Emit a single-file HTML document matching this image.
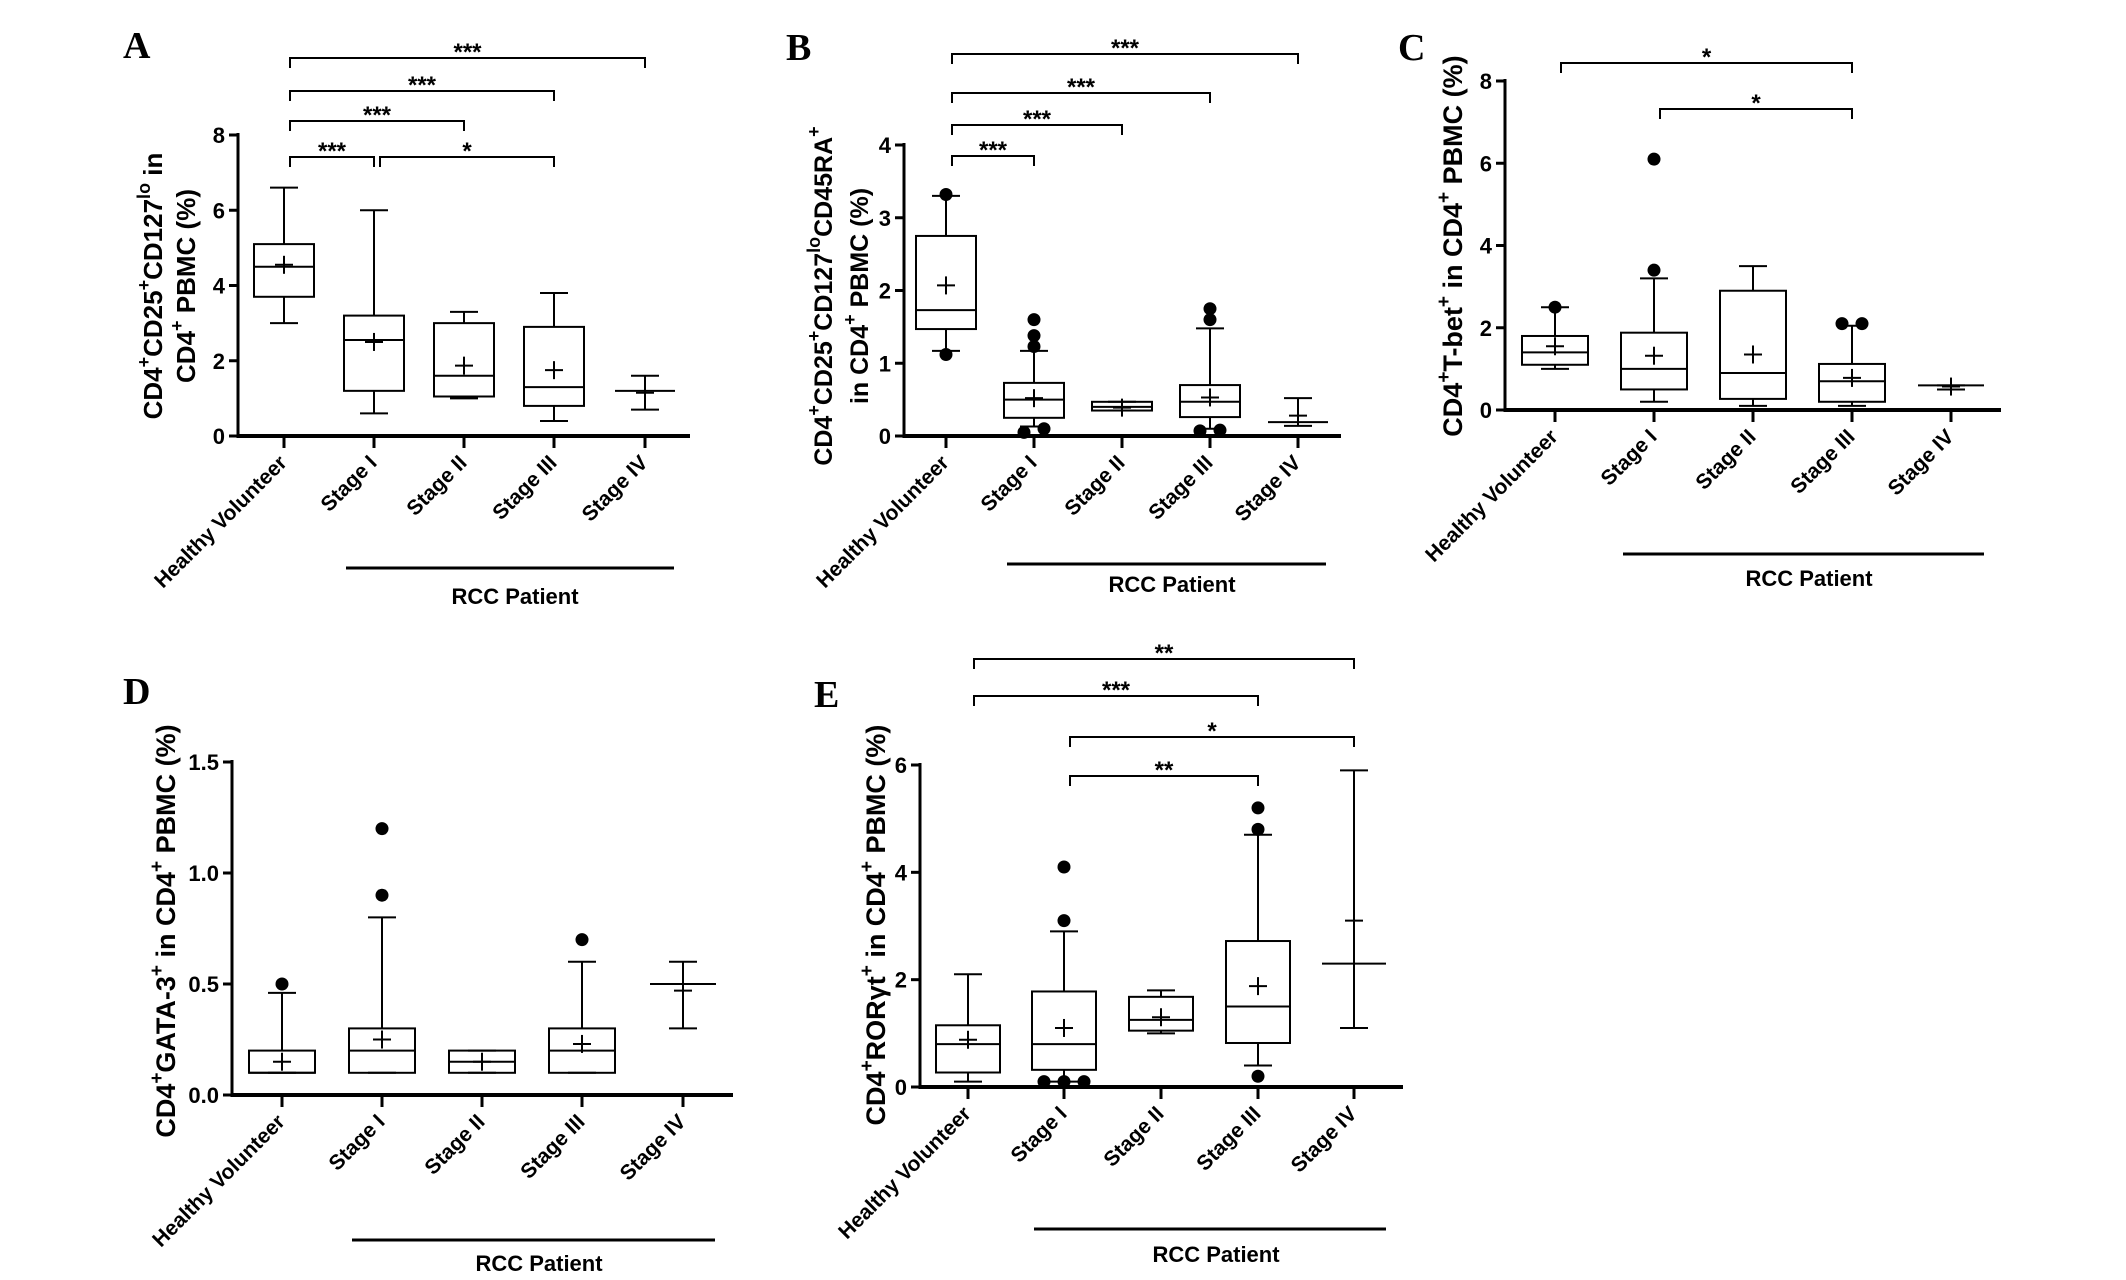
<!DOCTYPE html>
<html><head><meta charset="utf-8"><style>
html,body{margin:0;padding:0;background:#fff}
svg{display:block}
text{font-family:"Liberation Sans",Arial,sans-serif;font-weight:bold;fill:#000}
.letter{font-family:"Liberation Serif",serif;font-size:38px}
</style></head><body>
<svg id="fig" width="2126" height="1280" viewBox="0 0 2126 1280" xmlns="http://www.w3.org/2000/svg"></svg>
<script>
const categories = ["Healthy Volunteer","Stage I","Stage II","Stage III","Stage IV"];

// Panel A
const aMin  = [3.0, 0.6, 1.0, 0.4, 0.7];
const aQ1   = [3.7, 1.2, 1.05, 0.8, 1.2];
const aMed  = [4.5, 2.55, 1.6, 1.3, 1.2];
const aQ3   = [5.1, 3.2, 3.0, 2.9, 1.2];
const aMax  = [6.6, 6.0, 3.3, 3.8, 1.6];
const aMean = [4.55, 2.5, 1.87, 1.75, 1.15];
const aOut  = [[], [], [], [], []];
const aTicks = ["0","2","4","6","8"];
// Panel B
const bMin  = [1.17, 0.13, 0.35, 0.1, 0.14];
const bQ1   = [1.47, 0.25, 0.35, 0.26, 0.19];
const bMed  = [1.73, 0.5, 0.4, 0.47, 0.19];
const bQ3   = [2.75, 0.73, 0.47, 0.7, 0.19];
const bMax  = [3.3, 1.17, 0.47, 1.48, 0.52];
const bMean = [2.07, 0.52, 0.39, 0.53, 0.28];
const bOut  = [[3.32, 1.12], [1.6, 1.38, 1.23, 0.05, 0.1], [], [1.75, 1.6, 0.07, 0.08], []];
const bTicks = ["0","1","2","3","4"];
// Panel C
const cMin  = [1.0, 0.2, 0.1, 0.1, 0.5];
const cQ1   = [1.1, 0.5, 0.27, 0.2, 0.6];
const cMed  = [1.4, 1.0, 0.9, 0.7, 0.6];
const cQ3   = [1.8, 1.88, 2.9, 1.12, 0.6];
const cMax  = [2.5, 3.2, 3.5, 2.05, 0.6];
const cMean = [1.55, 1.32, 1.35, 0.78, 0.57];
const cOut  = [[2.5], [6.1, 3.4], [], [2.1, 2.1], []];
const cTicks = ["0","2","4","6","8"];
// Panel D
const dMin  = [0.1, 0.1, 0.1, 0.1, 0.3];
const dQ1   = [0.1, 0.1, 0.1, 0.1, 0.5];
const dMed  = [0.1, 0.2, 0.15, 0.2, 0.5];
const dQ3   = [0.2, 0.3, 0.2, 0.3, 0.5];
const dMax  = [0.46, 0.8, 0.2, 0.6, 0.6];
const dMean = [0.15, 0.25, 0.15, 0.23, 0.47];
const dOut  = [[0.5], [1.2, 0.9], [], [0.7], []];
const dTicks = ["0.0","0.5","1.0","1.5"];
// Panel E
const eMin  = [0.1, 0.1, 1.0, 0.4, 1.1];
const eQ1   = [0.27, 0.32, 1.05, 0.82, 2.3];
const eMed  = [0.8, 0.8, 1.25, 1.5, 2.3];
const eQ3   = [1.15, 1.78, 1.68, 2.72, 2.3];
const eMax  = [2.1, 2.9, 1.8, 4.7, 5.9];
const eMean = [0.88, 1.1, 1.3, 1.88, 3.1];
const eOut  = [[], [4.1, 3.1, 0.1, 0.1, 0.1], [], [5.2, 4.8, 0.2], []];
const eTicks = ["0","2","4","6"];

const NS = "http://www.w3.org/2000/svg";
const svg = document.getElementById('fig');
function mk(tag, attrs, parent){
  const e = document.createElementNS(NS, tag);
  for (const k in attrs) e.setAttribute(k, attrs[k]);
  (parent||svg).appendChild(e);
  return e;
}

const panels = [
 {id:"a", letter:"A", lx:123, ly:58, ax:238, y0:436, yTop:135, vmax:8, xEnd:690, cats:[284,374,464,554,645], hw:30,
  min:aMin,q1:aQ1,med:aMed,q3:aQ3,max:aMax,mean:aMean,out:aOut,ticks:aTicks,
  title:[[["CD4",0],["+",1],["CD25",0],["+",1],["CD127",0],["lo",1],[" in",0]],[["CD4",0],["+",1],[" PBMC (%)",0]]],
  tx:[155,188], ty:286, tfs:26,
  rcc:[346,674,568], rccText:[515,604],
  br:[[0,4,58,"***"],[0,3,91,"***"],[0,2,121,"***"],[0,1,157,"***"],[1,3,157,"*"]]},
 {id:"b", letter:"B", lx:786, ly:60, ax:904, y0:436, yTop:145, vmax:4, xEnd:1341, cats:[946,1034,1122,1210,1298], hw:30,
  min:bMin,q1:bQ1,med:bMed,q3:bQ3,max:bMax,mean:bMean,out:bOut,ticks:bTicks,
  title:[[["CD4",0],["+",1],["CD25",0],["+",1],["CD127",0],["lo",1],["CD45RA",0],["+",1]],[["in CD4",0],["+",1],[" PBMC (%)",0]]],
  tx:[825,861], ty:296, tfs:25,
  rcc:[1007,1326,564], rccText:[1172,592],
  br:[[0,4,54,"***"],[0,3,93,"***"],[0,2,125,"***"],[0,1,156,"***"]]},
 {id:"c", letter:"C", lx:1398, ly:60, ax:1505, y0:410, yTop:81, vmax:8, xEnd:2001, cats:[1555,1654,1753,1852,1951], hw:33,
  min:cMin,q1:cQ1,med:cMed,q3:cQ3,max:cMax,mean:cMean,out:cOut,ticks:cTicks,
  title:[[["CD4",0],["+",1],["T-bet",0],["+",1],[" in CD4",0],["+",1],[" PBMC (%)",0]]],
  tx:[1455], ty:246, tfs:27,
  rcc:[1623,1984,554], rccText:[1809,586],
  br:[[0,3,63,"*"],[1,3,109,"*"]]},
 {id:"d", letter:"D", lx:123, ly:704, ax:232, y0:1095, yTop:762, vmax:1.5, xEnd:733, cats:[282,382,482,582,683], hw:33,
  min:dMin,q1:dQ1,med:dMed,q3:dQ3,max:dMax,mean:dMean,out:dOut,ticks:dTicks,
  title:[[["CD4",0],["+",1],["GATA-3",0],["+",1],[" in CD4",0],["+",1],[" PBMC (%)",0]]],
  tx:[168], ty:931, tfs:27,
  rcc:[352,715,1240], rccText:[539,1271],
  br:[]},
 {id:"e", letter:"E", lx:814, ly:707, ax:920, y0:1087, yTop:765, vmax:6, xEnd:1403, cats:[968,1064,1161,1258,1354], hw:32,
  min:eMin,q1:eQ1,med:eMed,q3:eQ3,max:eMax,mean:eMean,out:eOut,ticks:eTicks,
  title:[[["CD4",0],["+",1],["ROR\u03B3t",0],["+",1],[" in CD4",0],["+",1],[" PBMC (%)",0]]],
  tx:[878], ty:925, tfs:27,
  rcc:[1034,1386,1229], rccText:[1216,1262],
  br:[[0,4,659,"**"],[0,3,696,"***"],[1,4,737,"*"],[1,3,776,"**"]]}
];

panels.forEach(p => {
  const g = mk('g', {});
  
  
  const Y = v => p.y0 - (v / p.vmax) * (p.y0 - p.yTop);

  const L = mk('text', {x:p.lx, y:p.ly, class:'letter'}, g);
  L.textContent = p.letter;
  
  

  const ya = mk('line', {x1:p.ax, y1:p.yTop-2, x2:p.ax, y2:p.y0, stroke:'#000','stroke-width':3}, g);
  
  
  p.ticks.forEach((t, i) => {
    const v = p.vmax * i / (p.ticks.length - 1);
    const yy = Y(v);
    mk('line', {x1:p.ax-9, y1:yy, x2:p.ax, y2:yy, stroke:'#000','stroke-width':3}, g);
    const tt = mk('text', {x:p.ax-13, y:yy+8, 'text-anchor':'end','font-size':22}, g);
    tt.textContent = t;
    
    
  });
  const xa = mk('line', {x1:p.ax-1.5, y1:p.y0, x2:p.xEnd, y2:p.y0, stroke:'#000','stroke-width':4}, g);
  
  
  p.cats.forEach((cx, i) => {
    mk('line', {x1:cx, y1:p.y0, x2:cx, y2:p.y0+12, stroke:'#000','stroke-width':3}, g);
    const tx = cx + 4, ty = p.y0 + 28;
    const lab = mk('text', {x:tx, y:ty, 'text-anchor':'end','font-size':21, transform:`rotate(-45 ${tx} ${ty})`}, g);
    lab.textContent = categories[i];
    
    

    const bg = mk('g', {stroke:'#000','stroke-width':2, fill:'none'}, g);
    
    
    const hw = p.hw, cap = 14;
    const yq1 = Y(p.q1[i]), yq3 = Y(p.q3[i]);
    if (p.q3[i] > p.q1[i]) mk('rect', {x:cx-hw, y:yq3, width:2*hw, height:yq1-yq3}, bg);
    mk('line', {x1:cx-hw, y1:Y(p.med[i]), x2:cx+hw, y2:Y(p.med[i])}, bg);
    mk('line', {x1:cx, y1:yq3, x2:cx, y2:Y(p.max[i])}, bg);
    mk('line', {x1:cx, y1:yq1, x2:cx, y2:Y(p.min[i])}, bg);
    mk('line', {x1:cx-cap, y1:Y(p.max[i]), x2:cx+cap, y2:Y(p.max[i])}, bg);
    mk('line', {x1:cx-cap, y1:Y(p.min[i]), x2:cx+cap, y2:Y(p.min[i])}, bg);
    const ym = Y(p.mean[i]);
    mk('line', {x1:cx-9, y1:ym, x2:cx+9, y2:ym}, bg);
    mk('line', {x1:cx, y1:ym-9, x2:cx, y2:ym+9}, bg);
    const outs = p.out[i];
    const tol = p.vmax * 0.03;
    const used = [];
    outs.forEach(v => {
      const grp = outs.filter(w => Math.abs(w - v) < tol);
      const k = used.filter(w => Math.abs(w - v) < tol).length;
      used.push(v);
      const off = (k - (grp.length - 1) / 2) * 20;
      const c = mk('circle', {cx:cx+off, cy:Y(v), r:6.5, fill:'#000', stroke:'none'}, g);
      
      
    });
  });

  p.title.forEach((line, li) => {
    const x = p.tx[li], y = p.ty;
    const t = mk('text', {x:x, y:y, 'text-anchor':'middle','font-size':p.tfs, transform:`rotate(-90 ${x} ${y})`,'dominant-baseline':'middle'}, g);
    
    
    line.forEach(seg => {
      const s = mk('tspan', {}, t);
      if (seg[1]) { s.setAttribute('baseline-shift', 'super'); s.setAttribute('font-size', Math.round(p.tfs*0.7)); }
      s.textContent = seg[0];
    });
  });

  const rl = mk('line', {x1:p.rcc[0], y1:p.rcc[2], x2:p.rcc[1], y2:p.rcc[2], stroke:'#000','stroke-width':3}, g);
  
  
  const rt = mk('text', {x:p.rccText[0], y:p.rccText[1], 'text-anchor':'middle','font-size':22}, g);
  rt.textContent = 'RCC Patient';
  
  

  p.br.forEach(b => {
    const x1 = p.cats[b[0]] + 6, x2 = p.cats[b[1]];
    const y = b[2];
    const path = mk('path', {d:`M${x1} ${y+10} L${x1} ${y} L${x2} ${y} L${x2} ${y+10}`, stroke:'#000','stroke-width':2, fill:'none'}, g);
    
    
    const st = mk('text', {x:(x1+x2)/2, y:y+2, 'text-anchor':'middle','font-size':24}, g);
    st.textContent = b[3];
    
    
  });
});
</script>
</body></html>
